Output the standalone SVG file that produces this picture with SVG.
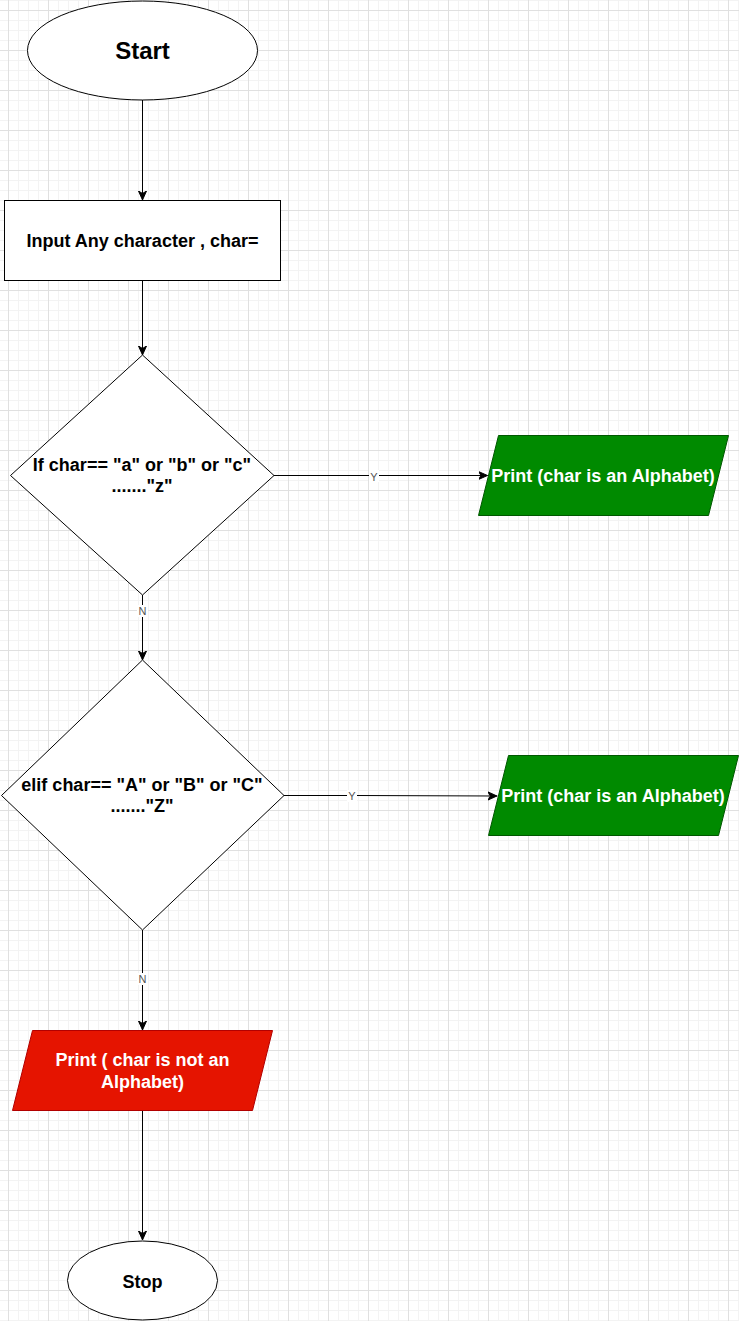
<svg xmlns="http://www.w3.org/2000/svg" width="739" height="1321" viewBox="0 0 739 1321">
  <defs>
    <pattern id="grid" patternUnits="userSpaceOnUse" x="8" y="10" width="40" height="40">
      <path d="M10.5 0V40M20.5 0V40M30.5 0V40M0 10.5H40M0 20.5H40M0 30.5H40" stroke="#f3f3f3" stroke-width="1" fill="none"/>
      <path d="M0.5 0V40M0 0.5H40" stroke="#e0e0e0" stroke-width="1" fill="none"/>
    </pattern>
    <marker id="arrow" viewBox="0 0 10 10" refX="9" refY="5" markerWidth="10" markerHeight="10" markerUnits="userSpaceOnUse" orient="auto">
      <path d="M0 1 L9 5 L0 9 L2.5 5 Z" fill="#000" stroke="#000" stroke-width="1"/>
    </marker>
  </defs>
  <style>
    .shape { fill: #ffffff; stroke: #000000; stroke-width: 1; }
    .green { fill: #008a00; stroke: #005700; stroke-width: 1; }
    .red { fill: #e51400; stroke: #b20000; stroke-width: 1; }
    .lbl { font-family: "Liberation Sans", Arial, sans-serif; font-weight: bold; font-size: 18px; text-anchor: middle; fill: #000; }
    .lbl.white { fill: #ffffff; }
    .title { font-size: 24px; }
    .edge { fill: none; stroke: #000; stroke-width: 1; marker-end: url(#arrow); }
    .elbl { font-family: "Liberation Sans", Arial, sans-serif; font-size: 11px; fill: #555; text-anchor: middle; }
    .elbg { fill: #ffffff; }
  </style>

  <rect width="739" height="1321" fill="#ffffff"/>
  <rect width="739" height="1321" fill="url(#grid)"/>

  <!-- connectors -->
  <g id="connectors">
    <path class="edge" d="M142.5 100 V200"/>
    <path class="edge" d="M142.5 280.5 V355"/>
    <path class="edge" d="M274 475.5 H487.5"/>
    <path class="edge" d="M142.5 595 V660"/>
    <path class="edge" d="M284 795.5 H356 L497 796"/>
    <path class="edge" d="M142.5 930 V1030"/>
    <path class="edge" d="M142.5 1110 V1240"/>
    <rect class="elbg" x="369" y="470" width="10" height="12"/>
    <text class="elbl" x="374" y="481">Y</text>
    <rect class="elbg" x="137" y="605" width="11" height="12"/>
    <text class="elbl" x="142.5" y="615">N</text>
    <rect class="elbg" x="347" y="790" width="10" height="12"/>
    <text class="elbl" x="352" y="800">Y</text>
    <rect class="elbg" x="137" y="973" width="11" height="12"/>
    <text class="elbl" x="142.5" y="983">N</text>
  </g>

  <g id="start">
    <ellipse class="shape" cx="142.5" cy="50.5" rx="115" ry="49.5"/>
    <text class="lbl title" x="142.5" y="58.5">Start</text>
  </g>

  <g id="input">
    <rect class="shape" x="4.5" y="200.5" width="276" height="80"/>
    <text class="lbl" x="142.5" y="247">Input Any character , char=</text>
  </g>

  <g id="check-lower">
    <polygon class="shape" points="142.5,355 274,475.5 142.5,595 10.5,475.5"/>
    <text class="lbl" x="142" y="470.5">If char== "a" or "b" or "c"</text>
    <text class="lbl" x="142" y="492">......."z"</text>
  </g>

  <g id="print-lower">
    <polygon class="green" points="498.5,435.5 728.5,435.5 708.5,515.5 478.5,515.5"/>
    <text class="lbl white" x="603" y="481.5">Print (char is an Alphabet)</text>
  </g>

  <g id="check-upper">
    <polygon class="shape" points="142.5,660 284,795.5 142.5,930 1.5,795.5"/>
    <text class="lbl" x="142" y="790.5">elif char== "A" or "B" or "C"</text>
    <text class="lbl" x="142" y="812">......."Z"</text>
  </g>

  <g id="print-upper">
    <polygon class="green" points="508.5,755.5 738.5,755.5 718.5,835.5 488.5,835.5"/>
    <text class="lbl white" x="613" y="801.5">Print (char is an Alphabet)</text>
  </g>

  <g id="print-not">
    <polygon class="red" points="32.5,1030.5 272.5,1030.5 252.5,1110.5 12.5,1110.5"/>
    <text class="lbl white" x="142.5" y="1065.5">Print ( char is not an</text>
    <text class="lbl white" x="142.5" y="1087.5">Alphabet)</text>
  </g>

  <g id="stop">
    <ellipse class="shape" cx="142.5" cy="1280.5" rx="75" ry="39.5"/>
    <text class="lbl" x="142.5" y="1287.5">Stop</text>
  </g>
</svg>
